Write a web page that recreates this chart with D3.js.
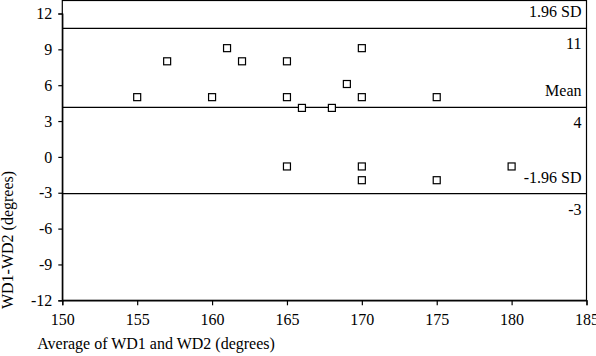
<!DOCTYPE html>
<html><head><meta charset="utf-8">
<script src="https://cdn.jsdelivr.net/npm/d3@7"></script>
<style>
body{margin:0;background:#fff;}
</style></head>
<body><svg id="c" width="596" height="356"></svg>
<script>
const xVals = [155,157,160,161,162,165,165,165,166,168,169,170,170,170,170,175,175,180];
const yVals = [5,8,5,9.1,8,8,5,-0.8,4.1,4.1,6.1,9.1,5,-0.8,-1.95,5,-1.95,-0.8];
const xTicks = [150,155,160,165,170,175,180,185];
const yTicks = [12,9,6,3,0,-3,-6,-9,-12];
const refValues = [10.75, 4.14, -3.07];
const refAbove = ["1.96 SD","Mean","-1.96 SD"];
const refBelow = ["11","4","-3"];

const FONT = "'Liberation Serif','Times New Roman',serif";
const svg = d3.select("#c");
const L=62.3, R=586.5, T=0.5, B=300.3;
const x = d3.scaleLinear().domain([150,185]).range([L,R]);
const y = d3.scaleLinear().domain([-12,12]).range([B,13.5]);

svg.append("rect").attr("x",L).attr("y",T).attr("width",R-L).attr("height",B-T)
  .attr("fill","none").attr("stroke","#000").attr("stroke-width",1.2);

const xa = svg.append("g").attr("transform",`translate(0,${B})`)
  .call(d3.axisBottom(x).tickValues(xTicks).tickSize(5).tickPadding(10).tickFormat(d3.format("d")));
const ya = svg.append("g").attr("transform",`translate(${L},0)`)
  .call(d3.axisLeft(y).tickValues(yTicks).tickSize(4).tickPadding(6).tickFormat(d3.format("d")));
[xa,ya].forEach(a=>{
  a.attr("font-family",null).attr("font-size",null);
  a.select(".domain").attr("stroke","#000").attr("stroke-width",1.2);
  a.selectAll(".tick line").attr("stroke","#000").attr("stroke-width",1.2);
  a.selectAll(".tick text").style("font-family",FONT).style("font-size","16px").attr("fill","#000");
});
xa.selectAll(".tick text").attr("dy","0.6em");
ya.selectAll(".tick text").text(d=>d<0?"-"+Math.abs(d):d);

svg.append("g").selectAll("line").data(refValues).join("line")
  .attr("x1",L).attr("x2",R).attr("y1",d=>y(d)).attr("y2",d=>y(d))
  .attr("stroke","#000").attr("stroke-width",1.3);
svg.append("g").selectAll("text").data(refValues).join("text")
  .attr("x",R-5).attr("y",d=>y(d)-11).attr("text-anchor","end")
  .style("font-family",FONT).style("font-size","16px")
  .text((d,i)=>refAbove[i]);
svg.append("g").selectAll("text").data(refValues).join("text")
  .attr("x",R-5).attr("y",d=>y(d)+21).attr("text-anchor","end")
  .style("font-family",FONT).style("font-size","16px")
  .text((d,i)=>refBelow[i]);

const pts = xVals.map((v,i)=>({x:v,y:yVals[i]}));
svg.append("g").selectAll("rect").data(pts).join("rect")
  .attr("x",d=>x(d.x)-3.5).attr("y",d=>y(d.y)-3.5).attr("width",7).attr("height",7)
  .attr("fill","#fff").attr("stroke","#000").attr("stroke-width",1.2);

svg.append("text").attr("x",156).attr("y",349).attr("text-anchor","middle")
  .style("font-family",FONT).style("font-size","16px")
  .text("Average of WD1 and WD2 (degrees)");
svg.append("text").attr("transform","translate(13,240) rotate(-90)").attr("text-anchor","middle")
  .style("font-family",FONT).style("font-size","16px")
  .text("WD1-WD2 (degrees)");
</script></body></html>
